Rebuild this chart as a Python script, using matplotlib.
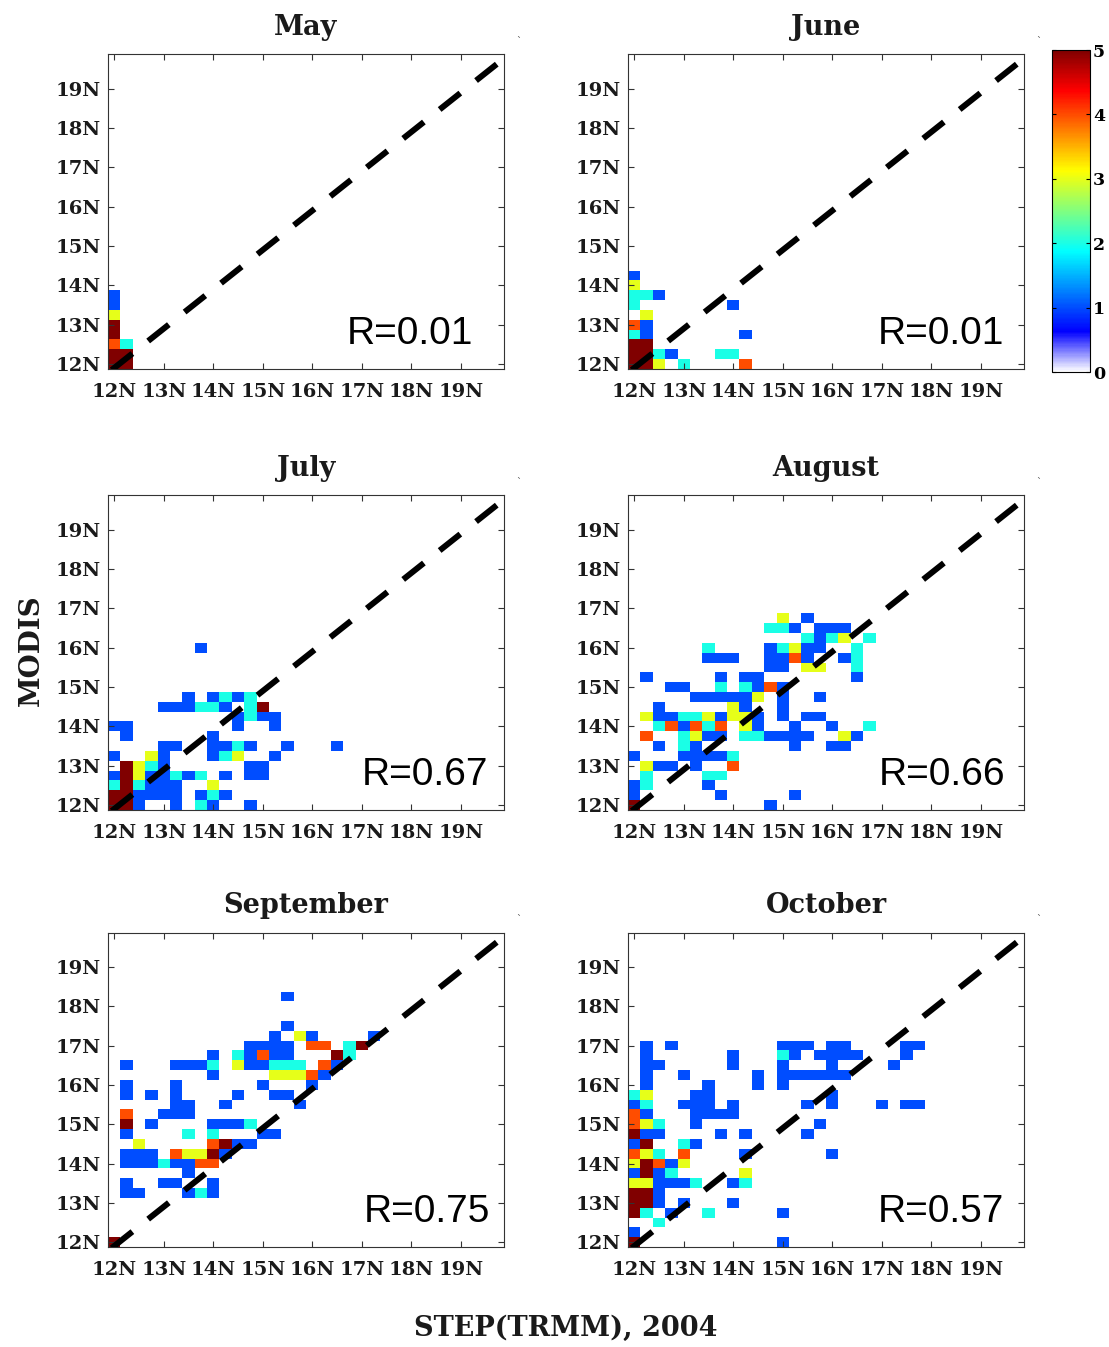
import numpy as np
import matplotlib
matplotlib.use("Agg")
import matplotlib.pyplot as plt
from matplotlib.colors import LinearSegmentedColormap

plt.rcParams["lines.scale_dashes"] = False

months = ["May", "June", "July", "August", "September", "October"]
r_values = ["0.01", "0.01", "0.67", "0.66", "0.75", "0.57"]
lat_ticks = [12, 13, 14, 15, 16, 17, 18, 19]
lat_labels = ["12N", "13N", "14N", "15N", "16N", "17N", "18N", "19N"]
cbar_ticks = [0, 1, 2, 3, 4, 5]
bin_size = 0.25
lat_start = 12.0

# counts per 0.25 deg bin, x = STEP(TRMM) latitude, y = MODIS latitude
# rows go from the highest row down to 12N, '.' = empty bin
may_counts = [
    "1.",
    "1.",
    "3.",
    "5.",
    "5.",
    "42",
    "55",
    "55",
]
june_counts = [
    "1.........",
    "3.........",
    "221.......",
    "2.......1.",
    ".3........",
    "41........",
    "21.......1",
    "55........",
    "5521...22.",
    "553.2....4",
]
july_counts = [
    ".......1...........",
    "...................",
    "...................",
    "...................",
    "...................",
    "......1.1212.......",
    "....111221.25......",
    "..........1211.....",
    "11........1..1.....",
    ".1......1..........",
    "....11..1121..1...1",
    "1..31...123..1.....",
    ".5321......11......",
    "15311212.1.11......",
    "252111..3..........",
    "551111.121.........",
    "551..1.21..1.......",
]
august_counts = [
    "............3.1.....",
    "...........221.111..",
    "..............2123.2",
    "......2....12311..2.",
    "......111..1141..12.",
    "...........11.33..2.",
    ".1.....1.11.......1.",
    "...11..2.2141.......",
    ".....111113.1..1....",
    "..1.....31..1.......",
    ".3112231331.1.11....",
    "..241424.31..1..1..2",
    ".4..2311.221111..31.",
    "..1.21.......1..11..",
    "1...11112...........",
    ".311.1..4...........",
    ".2....22............",
    "12....1.............",
    "1......1.....1......",
    "5..........1........",
]
september_counts = [
    "..............1.......",
    "......................",
    "......................",
    "..............1.......",
    ".............1.31....1",
    "...........1111.44.25.",
    "........1.21411...52..",
    ".1...1112.311222.41...",
    "........1....33341....",
    ".1...1......1...1.....",
    ".1.1.1....1..11.......",
    ".....11..1.....1......",
    ".4..111...............",
    ".5.1....1112..........",
    ".1....2.2...11........",
    "..3.....4511..........",
    ".111.43351............",
    ".11121144.............",
    "......1...............",
    ".1..11..1.............",
    ".11...121.............",
    "......................",
    "......................",
    "......................",
    "......................",
    "5.....................",
]
october_counts = [
    ".1.1........111.11....11",
    ".1......1...21.1111...1.",
    ".11.....1...1...1....1..",
    ".1..1.....1.111111......",
    ".1....1...1.1...........",
    "23...11.........1.......",
    "12..111.1.....1.1...1.11",
    "41...1111...............",
    "432..1.........1........",
    "511....1.1....1.........",
    "15..21..................",
    "432.4....1......1.......",
    "35413...................",
    "1512.....3..............",
    "331112..12..............",
    "551.....................",
    "551.1...1...............",
    "52.1..2.....1...........",
    "..2.....................",
    "1.......................",
    "5...........1...........",
]
all_counts = [may_counts, june_counts, july_counts,
              august_counts, september_counts, october_counts]


def to_grid(rows, n=32):
    grid = np.zeros((n, n))
    for r, row in enumerate(rows):
        j = len(rows) - 1 - r
        for i, ch in enumerate(row):
            if ch != ".":
                grid[j, i] = int(ch)
    return np.ma.masked_equal(grid, 0)


# jet, but fading to white at zero
cmap = LinearSegmentedColormap.from_list("jet_white", [
    (0.0, (1, 1, 1)),
    (0.125, (0, 0, 1)),
    (0.375, (0, 1, 1)),
    (0.625, (1, 1, 0)),
    (0.875, (1, 0, 0)),
    (1.0, (0.5, 0, 0)),
])

edges = lat_start - bin_size / 2 + bin_size * np.arange(33)
serif = dict(family="DejaVu Serif", weight="bold")

fig = plt.figure(figsize=(11.09, 13.47), dpi=100)
lefts = [0.0974, 0.5663]
bottoms = [0.7261, 0.3987, 0.0742]
r_xpos = [16.7, 16.92, 17.0, 16.94, 17.04, 16.92]

for k, (month, counts) in enumerate(zip(months, all_counts)):
    ax = fig.add_axes([lefts[k % 2], bottoms[k // 2], 0.3571, 0.2335])
    mesh = ax.pcolormesh(edges, edges, to_grid(counts), cmap=cmap,
                         vmin=0, vmax=5, antialiased=False)
    ax.plot([11.95, 19.85], [11.85, 19.75], color="black", lw=4.3,
            dashes=(19, 14.5), dash_capstyle="butt", zorder=3)
    ax.set_xlim(edges[0], edges[-1])
    ax.set_ylim(edges[0], edges[-1])
    ax.set_xticks(lat_ticks)
    ax.set_yticks(lat_ticks)
    ax.set_xticklabels(lat_labels, fontsize=14, **serif)
    ax.set_yticklabels(lat_labels, fontsize=14, **serif)
    ax.tick_params(direction="in", length=4, width=0.8, top=True, right=True,
                   colors="#333333", labelcolor="#1a1a1a")
    ax.tick_params(axis="x", pad=10)
    ax.tick_params(axis="y", pad=5)
    for s in ax.spines.values():
        s.set_linewidth(0.8)
        s.set_color("#333333")
    ax.set_title(month, fontsize=19.5, pad=14, color="#1a1a1a", **serif)
    ax.text(r_xpos[k], 12.5, f"R={r_values[k]}", fontsize=28,
            family="Liberation Sans", ha="left", va="baseline", color="black")
    ax.text(1.03, 1.03, "`", transform=ax.transAxes, fontsize=7, color="#555555")

cax = fig.add_axes([0.9486, 0.7238, 0.0343, 0.239])
cb = fig.colorbar(mesh, cax=cax, ticks=cbar_ticks)
cb.outline.set_linewidth(0.8)
cax.tick_params(direction="in", length=3, width=0.8, left=True, right=True, pad=2)
cax.set_yticklabels([str(t) for t in cbar_ticks], fontsize=12.5, **serif)

fig.text(0.028, 0.517, "MODIS", rotation=90, ha="center", va="center",
         fontsize=20, color="#1a1a1a", **serif)
fig.text(0.51, 0.008, "STEP(TRMM), 2004", ha="center", va="baseline",
         fontsize=19.5, color="#1a1a1a", **serif)

fig.savefig("out.png", dpi=100)
